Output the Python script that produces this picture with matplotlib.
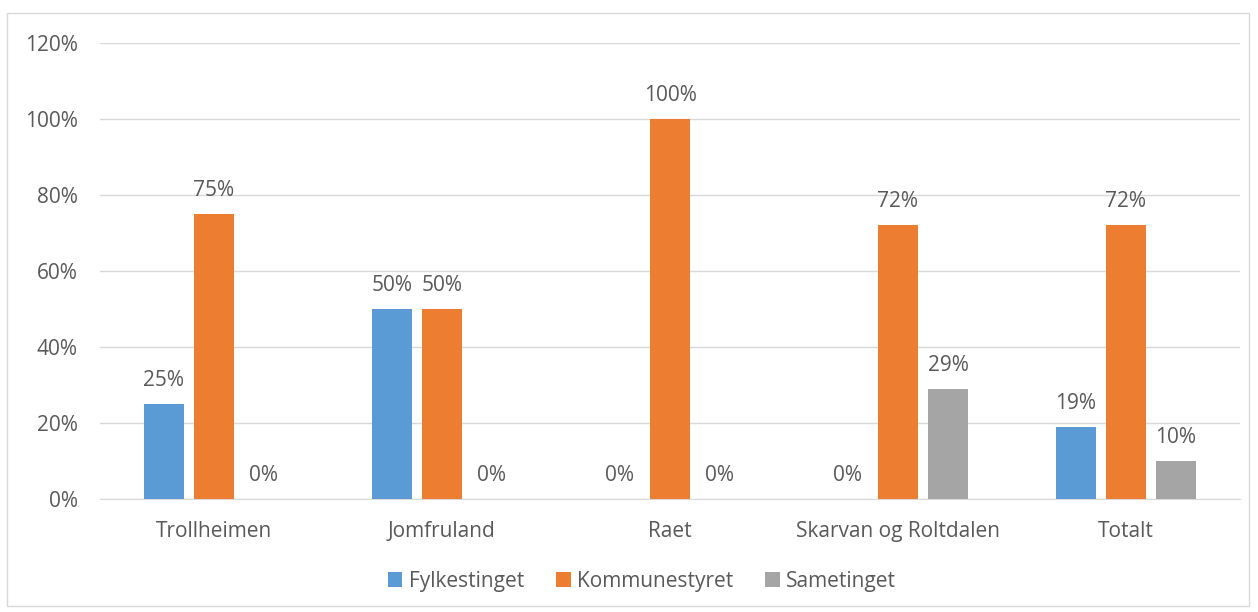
import numpy as np
import matplotlib.pyplot as plt
from matplotlib.patches import Rectangle

categories = ['Trollheimen', 'Jomfruland', 'Raet', 'Skarvan og Roltdalen', 'Totalt']
series_names = ['Fylkestinget', 'Kommunestyret', 'Sametinget']
fylkestinget = [25, 50, 0, 0, 19]
kommunestyret = [75, 50, 100, 72, 72]
sametinget = [0, 0, 0, 29, 10]
colors = ['#5B9BD5', '#ED7D31', '#A5A5A5']


def main():
    plt.rcParams['font.family'] = ['Open Sans', 'DejaVu Sans']
    txt = '#595959'
    fs = 15

    fig = plt.figure(figsize=(12.58, 6.12), dpi=100)
    ax = fig.add_axes([100 / 1258, 1 - 499 / 612, 1140 / 1258, 456 / 612])

    x = np.arange(len(categories))
    w = 40 / 228
    step = 50 / 228
    data = [fylkestinget, kommunestyret, sametinget]
    for i, (vals, name, c) in enumerate(zip(data, series_names, colors)):
        pos = x + (i - 1) * step
        ax.bar(pos, vals, width=w, color=c, label=name, zorder=3)
        for p, v in zip(pos, vals):
            ax.annotate(f'{v}%', (p, v), xytext=(0, 17), textcoords='offset points',
                        ha='center', va='center', fontsize=fs, color=txt)

    ax.set_xlim(-0.5, len(categories) - 0.5)
    ax.set_ylim(0, 120)
    ax.set_yticks(range(0, 121, 20))
    ax.set_yticklabels([f'{t}%' for t in range(0, 121, 20)])
    ax.set_xticks(x)
    ax.set_xticklabels(categories)
    ax.tick_params(axis='both', length=0, labelsize=fs, labelcolor=txt)
    ax.tick_params(axis='y', pad=16)
    ax.tick_params(axis='x', pad=16)
    ax.grid(axis='y', color='#D9D9D9', linewidth=1, zorder=0)
    for s in ['top', 'right', 'left']:
        ax.spines[s].set_visible(False)
    ax.spines['bottom'].set_color('#D9D9D9')

    leg = fig.legend(loc='center', bbox_to_anchor=(642 / 1258, 1 - 581 / 612), ncol=3,
                     frameon=False, fontsize=fs, handlelength=0.7, handleheight=0.7,
                     handletextpad=0.3, columnspacing=1.55)
    for t in leg.get_texts():
        t.set_color(txt)

    fig.patches.append(Rectangle((7 / 1258, 0.01), 1242 / 1258, 1 - 13 / 612 - 0.01,
                                 transform=fig.transFigure, fill=False,
                                 edgecolor='#D9D9D9', linewidth=1))

    fig.savefig('out.png', dpi=100)


if __name__ == "__main__":
    main()
